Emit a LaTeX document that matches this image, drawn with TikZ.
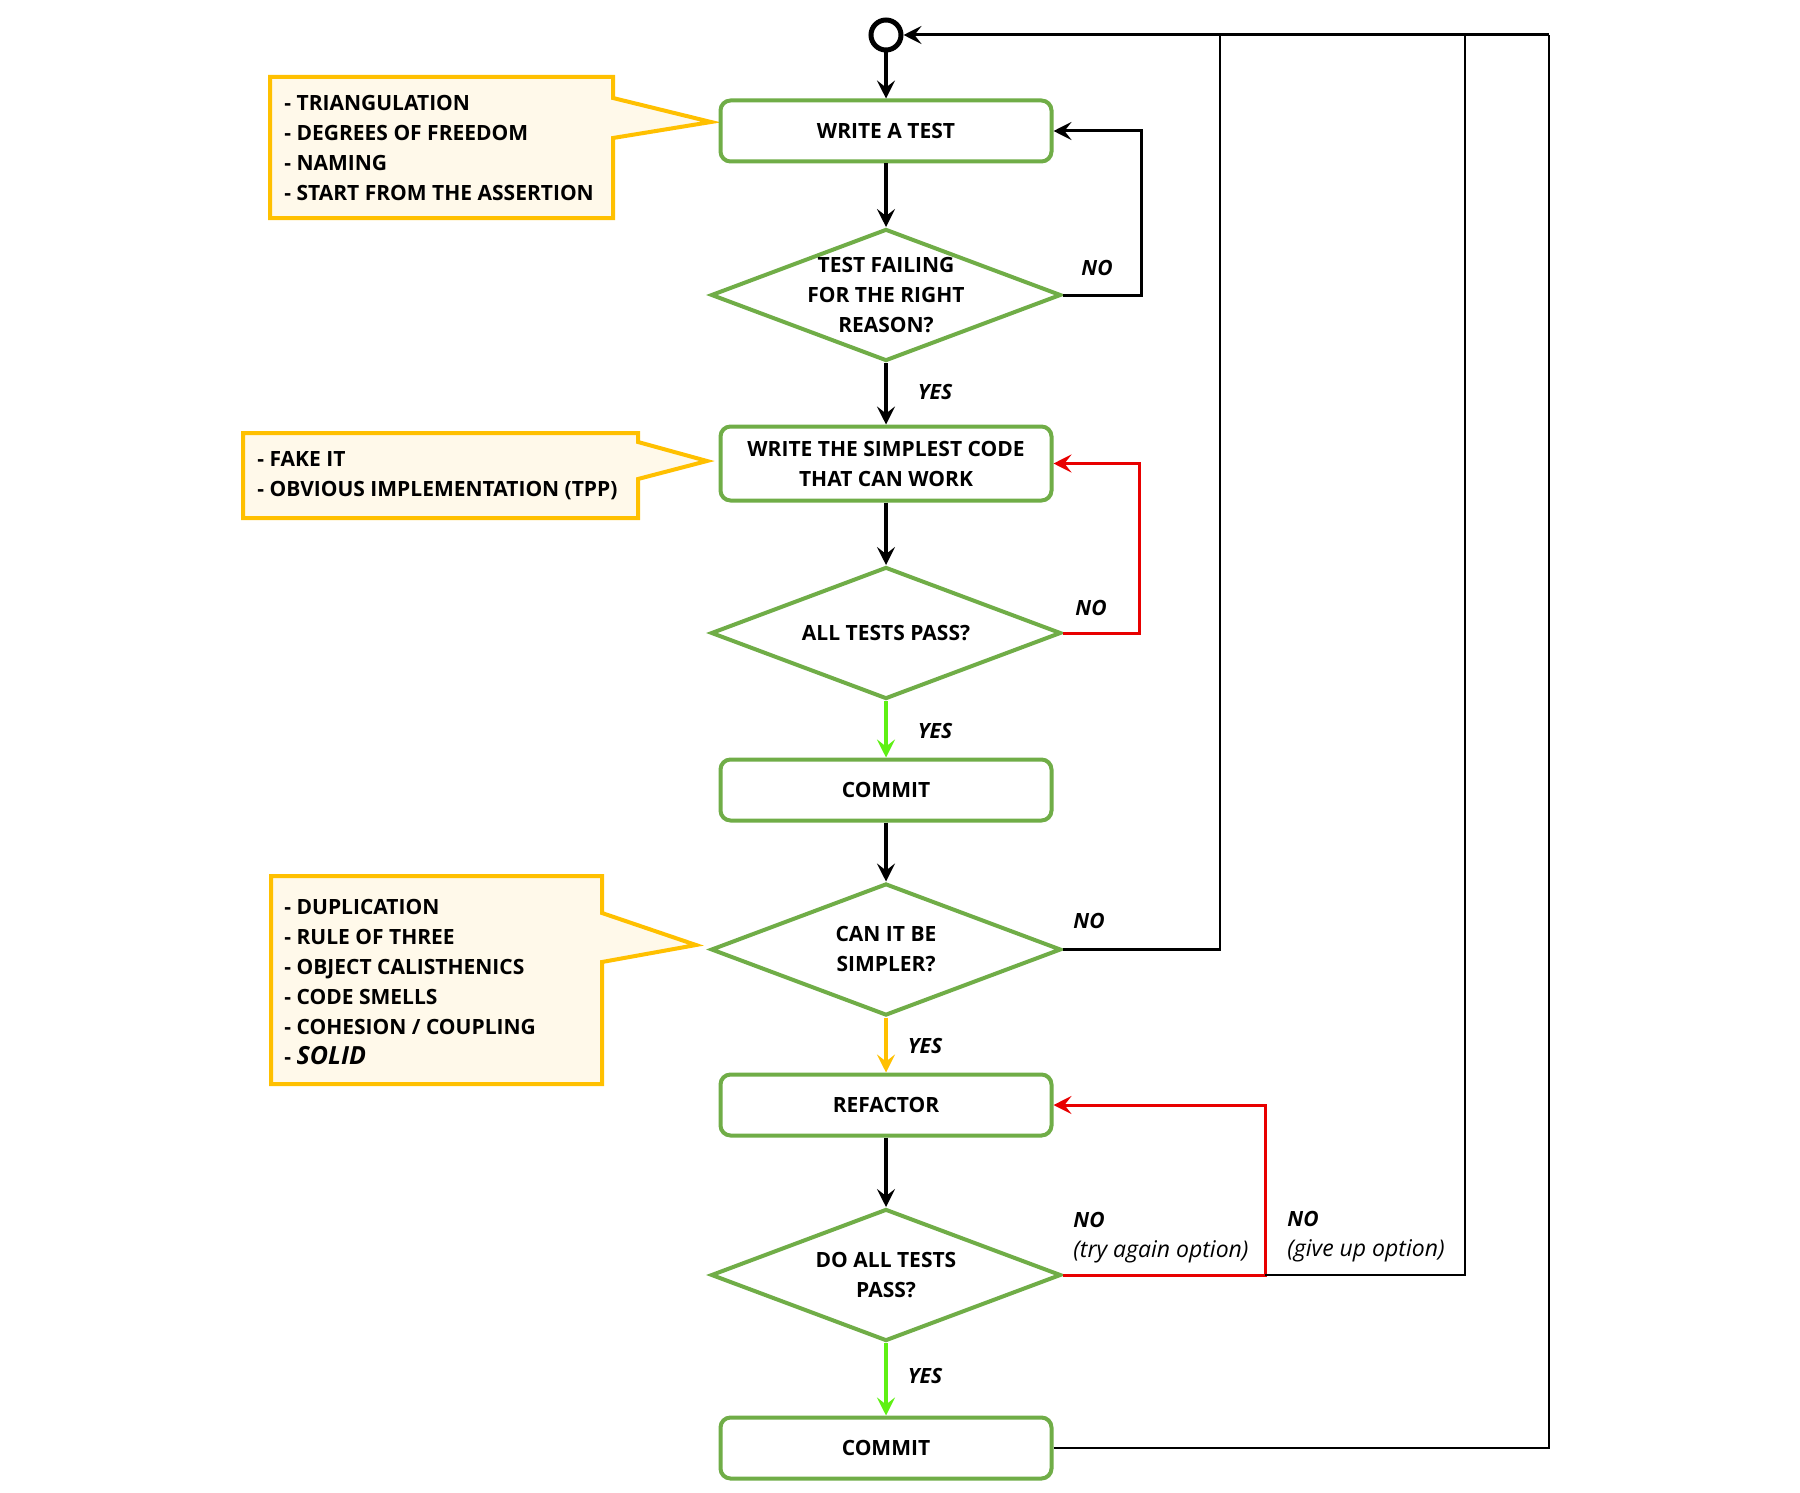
\documentclass[tikz,border=0pt]{standalone}
\usepackage{fontspec}
\setmainfont{Open Sans}
\usetikzlibrary{arrows.meta, shapes.geometric}
\definecolor{boxgreen}{RGB}{112,173,71}
\definecolor{notegold}{RGB}{255,192,0}
\definecolor{notefill}{RGB}{255,249,234}
\definecolor{passgreen}{RGB}{95,240,20}
\definecolor{failred}{RGB}{232,0,0}
\newcommand{\optfont}{\fontsize{11.5}{15}\selectfont\mdseries\itshape}

\begin{document}
\begin{tikzpicture}[x=0.5pt, y=-0.5pt,
        font=\fontsize{10.5}{15}\selectfont\bfseries,
        stepbox/.style={rectangle, rounded corners=5pt, draw=boxgreen, line width=2pt,
            minimum width=165.5pt, minimum height=30.5pt, inner sep=0pt, align=center},
        check/.style={diamond, draw=boxgreen, line width=2pt, aspect=2.65,
            minimum width=175pt, minimum height=66pt, inner sep=0pt, align=center},
        notebox/.style={draw=notegold, fill=notefill, line width=2pt},
        notetext/.style={anchor=west, inner sep=0pt, align=left},
        answer/.style={inner sep=0pt, font=\fontsize{10.5}{15}\selectfont\bfseries\itshape},
        flow/.style={line width=1.8pt, -{Stealth[length=9pt, width=9pt, inset=3.5pt]}},
        loop/.style={line width=1.5pt, -{Stealth[length=9pt, width=9pt, inset=3.5pt]}},
        back/.style={line width=1.4pt}]
                \path[use as bounding box, fill=white] (0,0) rectangle (1800,1493);

                % call-outs
                \draw[notebox] (270,77) -- (613,77) -- (613,98) -- (711,122) -- (613,138) -- (613,218) -- (270,218) -- cycle;
                \draw[notebox] (243,433) -- (638,433) -- (638,442) -- (707,461) -- (638,479) -- (638,518) -- (243,518) -- cycle;
                \draw[notebox] (271,876) -- (602,876) -- (602,913) -- (696,945) -- (602,962) -- (602,1084) -- (271,1084) -- cycle;
                \node[notetext] (noteA) at (284,147.5) {- TRIANGULATION\\- DEGREES OF FREEDOM\\- NAMING\\- START FROM THE ASSERTION};
                \node[notetext] (noteB) at (257,476) {- FAKE IT\\- OBVIOUS IMPLEMENTATION (TPP)};
                \node[notetext] (noteC) at (284,982) {- DUPLICATION\\- RULE OF THREE\\- OBJECT CALISTHENICS\\- CODE SMELLS\\- COHESION / COUPLING\\- {\fontsize{12.5}{15}\selectfont\itshape SOLID}};

                \node[circle, draw, line width=2.5pt, minimum size=15pt, inner sep=0pt] (start) at (886,35) {};
                \node[stepbox] (write) at (886,131) {WRITE A TEST};
                \node[check, inner sep=-0.6pt] (fail) at (886,295) {TEST FAILING\\FOR THE RIGHT\\REASON?};
                \node[stepbox, minimum height=37pt] (code) at (886,463.5) {WRITE THE SIMPLEST CODE\\THAT CAN WORK};
                \node[check] (pass) at (886,633) {ALL TESTS PASS?};
                \node[stepbox] (commitA) at (886,790) {COMMIT};
                \node[check] (simpler) at (886,949.5) {CAN IT BE\\SIMPLER?};
                \node[stepbox] (refactor) at (886,1105) {REFACTOR};
                \node[check] (passall) at (886,1275) {DO ALL TESTS\\PASS?};
                \node[stepbox] (commitB) at (886,1448) {COMMIT};

                \node[answer] (noA) at (1097,268) {NO};
                \node[answer] (yesA) at (935,392) {YES};
                \node[answer] (noB) at (1091,608) {NO};
                \node[answer] (yesB) at (935,731) {YES};
                \node[answer] (noC) at (1089,921) {NO};
                \node[answer] (yesC) at (925,1046) {YES};
                \node[answer, align=left, anchor=west] (noD) at (1073,1238) {NO\\{\optfont (try again option)}};
                \node[answer, align=left, anchor=west] (noE) at (1287,1237) {NO\\{\optfont (give up option)}};
                \node[answer] (yesD) at (925,1376) {YES};

                \coordinate (rtop) at (1549,35);
                \coordinate (jA) at (1220,35);
                \coordinate (jB) at (1465,35);
                \coordinate (split) at (1265,1275);

                \draw [flow]
                    (start) edge (write)
                    (write) edge (fail)
                    (fail) edge (code)
                    (code) edge (pass)
                    (commitA) edge (simpler)
                    (refactor) edge (passall);
                \draw [flow, passgreen] (pass) -- (commitA);
                \draw [flow, notegold] (simpler) -- (refactor);
                \draw [flow, passgreen] (passall) -- (commitB);

                \draw [loop] (fail.east) -- ++(78,0) |- (write.east);
                \draw [loop, failred] (pass.east) -- ++(76,0) |- (code.east);
                \draw [loop, failred] (passall.east) -- (split) |- (refactor.east);
                \draw [back] (split) -| (jB);
                \draw [back] (simpler.east) -| (jA);
                \draw [back] (commitB.east) -| (rtop);
                \draw [loop] (rtop) -- (start.east);
            \end{tikzpicture}
\end{document}
